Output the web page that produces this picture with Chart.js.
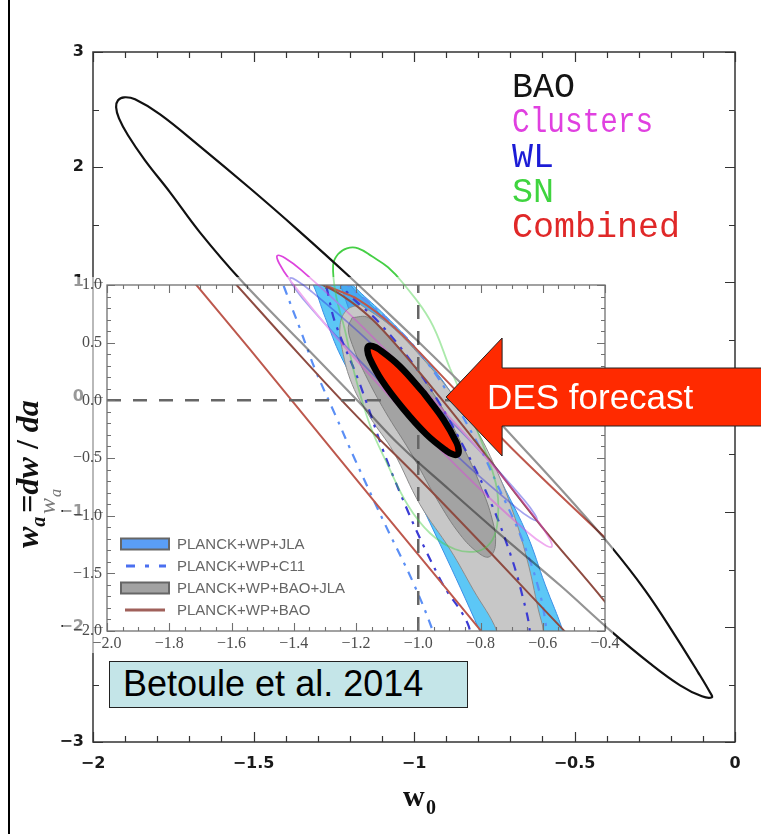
<!DOCTYPE html>
<html>
<head>
<meta charset="utf-8">
<title>Dark energy constraints in the w0 – wa plane</title>
<script src="https://cdn.jsdelivr.net/npm/chart.js@4.4.1/dist/chart.umd.min.js"></script>
<style>
  html, body { margin: 0; padding: 0; background: #fff; }
  #stage { position: relative; width: 761px; height: 834px; overflow: hidden; background: #fff; }
  #stage canvas { position: absolute; left: 0; top: 0; }
  #cite {
    position: absolute; left: 109px; top: 661px; width: 359px; height: 47px; box-sizing: border-box;
    background: #c4e5e8; border: 1px solid #222; color: #000;
    font-family: 'Liberation Sans', Arial, sans-serif; font-size: 36px; line-height: 44px;
    padding-left: 13px; white-space: nowrap;
  }
  #edge { position: absolute; left: 8px; top: 0; width: 1.5px; height: 834px; background: #000; }
</style>
</head>
<body>
<div id="stage">
  <canvas id="inset" width="761" height="834"></canvas>
  <canvas id="main" width="761" height="834"></canvas>
  <canvas id="forecast" width="761" height="834"></canvas>
  <div id="cite">Betoule et al. 2014</div>
  <div id="edge"></div>
</div>
<script>
// ---------- main panel: DES forecast contours, w0 in [-2, 0], wa in [-3, 3] ----------
const outerW0Ticks = [-2, -1.5, -1, -0.5, 0];
const outerWaTicks = [-3, -2, -1, 0, 1, 2, 3];
const probeNames = ['BAO', 'Clusters', 'WL', 'SN', 'Combined'];

const baoContour = [
  [-0.991, 0.493], [-0.794, -0.046], [-0.639, -0.507], [-0.514, -0.890], [-0.389, -1.290],
  [-0.280, -1.681], [-0.187, -2.072], [-0.115, -2.394], [-0.078, -2.568], [-0.072, -2.611],
  [-0.103, -2.603], [-0.171, -2.507], [-0.265, -2.316], [-0.389, -2.029], [-0.545, -1.637],
  [-0.732, -1.194], [-0.888, -0.811], [-1.044, -0.420], [-1.174, -0.037], [-1.355, 0.484],
  [-1.539, 1.015], [-1.667, 1.432], [-1.760, 1.780], [-1.838, 2.058], [-1.891, 2.276],
  [-1.919, 2.423], [-1.928, 2.519], [-1.922, 2.580], [-1.903, 2.606], [-1.869, 2.589],
  [-1.791, 2.458], [-1.667, 2.180], [-1.511, 1.815], [-1.364, 1.458], [-1.199, 1.041],
  [-0.991, 0.493]
];
const clustersContour = [
  [-0.964, 0.052], [-1.183, 0.673], [-1.351, 1.103], [-1.402, 1.209], [-1.426, 1.229],
  [-1.420, 1.162], [-1.386, 1.015], [-1.242, 0.518], [-1.032, -0.127], [-0.814, -0.748],
  [-0.645, -1.178], [-0.594, -1.283], [-0.571, -1.303], [-0.577, -1.237], [-0.611, -1.090],
  [-0.755, -0.593], [-0.964, 0.052]
];
const wlContour = [
  [-0.978, 0.049], [-1.173, 0.566], [-1.323, 0.926], [-1.367, 1.015], [-1.386, 1.033],
  [-1.379, 0.980], [-1.347, 0.858], [-1.215, 0.448], [-1.026, -0.089], [-0.830, -0.606],
  [-0.680, -0.966], [-0.636, -1.055], [-0.617, -1.073], [-0.624, -1.020], [-0.656, -0.898],
  [-0.788, -0.488], [-0.978, 0.049]
];
const snContour = [
  [-0.888, 0.250], [-0.826, -0.142], [-0.773, -0.507], [-0.741, -0.811], [-0.741, -1.116],
  [-0.763, -1.272], [-0.804, -1.342], [-0.872, -1.324], [-0.950, -1.185], [-1.019, -0.942],
  [-1.084, -0.577], [-1.137, -0.246], [-1.184, 0.189], [-1.215, 0.580], [-1.243, 0.884],
  [-1.252, 1.145], [-1.237, 1.241], [-1.209, 1.293], [-1.174, 1.293], [-1.131, 1.223],
  [-1.081, 1.128], [-1.034, 0.989], [-0.950, 0.667], [-0.888, 0.250]
];
const combinedContour = [
  [-0.972, 0.043], [-1.045, 0.269], [-1.108, 0.413], [-1.129, 0.443], [-1.142, 0.441],
  [-1.145, 0.406], [-1.139, 0.342], [-1.100, 0.143], [-1.034, -0.101], [-0.961, -0.326],
  [-0.898, -0.470], [-0.877, -0.500], [-0.864, -0.498], [-0.861, -0.463], [-0.867, -0.399],
  [-0.907, -0.201], [-0.972, 0.043]
];
const forecastTip = [-0.9, 0.0];

// ---------- inset: current constraints (Betoule et al. 2014), w0 in [-2, -0.4], wa in [-2, 1] ----------
const insetW0Ticks = [-2.0, -1.8, -1.6, -1.4, -1.2, -1.0, -0.8, -0.6, -0.4];
const insetWaTicks = [-2.0, -1.5, -1.0, -0.5, 0.0, 0.5, 1.0];
const insetNames = ['PLANCK+WP+JLA', 'PLANCK+WP+C11', 'PLANCK+WP+BAO+JLA', 'PLANCK+WP+BAO'];
const fiducialW0 = -1.0;
const fiducialWa = 0.0;

const jlaOuter = [
  [-1.379, 1.204], [-1.338, 1.004], [-1.299, 0.718], [-1.248, 0.379], [-1.154, -0.081],
  [-1.058, -0.541], [-0.929, -1.253], [-0.801, -2.008], [-0.736, -2.424], [-0.608, -2.511],
  [-0.511, -2.251], [-0.534, -2.008], [-0.592, -1.600], [-0.650, -1.166], [-0.720, -0.775],
  [-0.791, -0.402], [-0.897, 0.076], [-1.003, 0.440], [-1.106, 0.735], [-1.196, 0.961],
  [-1.283, 1.204], [-1.347, 1.308], [-1.379, 1.204]
];
const jlaInner = [
  [-1.283, 1.204], [-1.251, 1.004], [-1.186, 0.527], [-1.058, -0.168], [-0.897, -0.949],
  [-0.768, -1.556], [-0.688, -2.008], [-0.640, -2.338], [-0.582, -2.294], [-0.624, -2.008],
  [-0.704, -1.383], [-0.801, -0.688], [-0.897, -0.168], [-1.010, 0.336], [-1.122, 0.744],
  [-1.219, 1.004], [-1.251, 1.204], [-1.283, 1.204]
];
const c11Outer = [
  [-1.460, 1.204], [-1.428, 0.961], [-1.379, 0.614], [-1.331, 0.266], [-1.267, -0.124],
  [-1.203, -0.515], [-1.106, -1.079], [-1.016, -1.582], [-0.952, -2.008], [-0.913, -2.338],
  [-0.736, -2.555], [-0.560, -2.338], [-0.582, -2.077], [-0.608, -1.687], [-0.666, -1.209],
  [-0.743, -0.749], [-0.807, -0.385], [-0.907, 0.076], [-1.010, 0.457], [-1.106, 0.718],
  [-1.203, 0.944], [-1.299, 1.135], [-1.460, 1.204]
];
const c11Inner = [
  [-1.315, 1.204], [-1.293, 0.961], [-1.267, 0.674], [-1.193, 0.180], [-1.080, -0.662],
  [-0.929, -1.556], [-0.842, -1.930], [-0.807, -2.251], [-0.660, -2.251], [-0.640, -2.077],
  [-0.666, -1.687], [-0.720, -1.209], [-0.785, -0.775], [-0.849, -0.428], [-0.939, 0.006],
  [-1.032, 0.371], [-1.129, 0.683], [-1.219, 0.909], [-1.265, 1.060], [-1.315, 1.204]
];
const baoJlaOuter = [
  [-1.186, 0.831], [-1.090, 0.648], [-1.003, 0.414], [-0.897, 0.076], [-0.817, -0.237],
  [-0.752, -0.584], [-0.698, -0.949], [-0.650, -1.383], [-0.614, -1.817], [-0.598, -2.008],
  [-0.601, -2.294], [-0.656, -2.511], [-0.720, -2.320], [-0.746, -2.008], [-0.823, -1.643],
  [-0.897, -1.296], [-0.994, -0.905], [-1.080, -0.445], [-1.154, -0.150], [-1.212, 0.136],
  [-1.244, 0.440], [-1.251, 0.657], [-1.228, 0.787], [-1.186, 0.831]
];
const baoJlaInner = [
  [-1.212, 0.718], [-1.161, 0.718], [-1.090, 0.544], [-1.010, 0.284], [-0.929, -0.037],
  [-0.859, -0.385], [-0.801, -0.732], [-0.762, -1.036], [-0.752, -1.253], [-0.772, -1.357],
  [-0.807, -1.322], [-0.865, -1.166], [-0.939, -0.862], [-1.026, -0.445], [-1.106, -0.098],
  [-1.170, 0.223], [-1.212, 0.484], [-1.225, 0.631], [-1.212, 0.718]
];
const planckBaoOuter = [
  [-1.862, 1.490], [-1.714, 1.004], [-1.540, 0.440], [-1.251, -0.515], [-1.026, -1.253],
  [-0.801, -1.990], [-0.672, -2.424], [-0.029, -2.251], [-0.158, -1.817], [-0.383, -1.235],
  [-0.695, -0.428], [-0.897, 0.136], [-1.080, 0.640], [-1.193, 0.874], [-1.289, 0.987],
  [-1.379, 1.117], [-1.540, 1.291], [-1.701, 1.395], [-1.862, 1.490]
];
const planckBaoInner = [
  [-1.701, 1.352], [-1.585, 1.004], [-1.379, 0.388], [-1.193, -0.150], [-0.994, -0.688],
  [-0.768, -1.322], [-0.534, -1.990], [-0.415, -2.320], [-0.254, -2.251], [-0.405, -1.730],
  [-0.608, -1.079], [-0.791, -0.445], [-0.929, 0.023], [-1.058, 0.440], [-1.154, 0.718],
  [-1.235, 0.891], [-1.315, 1.013], [-1.412, 1.152], [-1.540, 1.265], [-1.701, 1.352]
];

// ---------- helpers ----------
const MINUS = '\u2212';
const fmtOuter = v => (v < 0 ? MINUS : '') + String(Math.abs(v));
const fmtInset = v => (v < -1e-9 ? MINUS : '') + Math.abs(v).toFixed(1);

function contour(label, pairs, style) {
  return Object.assign({
    label,
    data: pairs.map(([x, y]) => ({ x, y })),
    showLine: true, pointRadius: 0, pointHoverRadius: 0,
    tension: 0.4, fill: false, borderWidth: 1.6
  }, style);
}

function fixedTicks(values) {
  return s => { s.ticks = values.map(v => ({ value: v })); };
}

// frame around the plotting area with inward major/minor ticks on all four sides
function frameTicks(cfg) {
  return {
    id: 'frameTicks',
    afterDatasetsDraw(chart) {
      const { ctx, chartArea: a, scales: { x, y } } = chart;
      ctx.save();
      ctx.strokeStyle = cfg.color;
      ctx.lineWidth = cfg.width;
      ctx.strokeRect(a.left, a.top, a.right - a.left, a.bottom - a.top);
      ctx.lineWidth = cfg.tickWidth;
      const near = (v, arr) => arr.some(m => Math.abs(m - v) < 1e-6);
      ctx.beginPath();
      for (let v = x.min; v <= x.max + 1e-9; v += cfg.xMinor) {
        const len = near(v, cfg.xMajor) ? cfg.major : cfg.minor;
        const px = Math.round(x.getPixelForValue(v)) + 0.5;
        ctx.moveTo(px, a.bottom); ctx.lineTo(px, a.bottom - len);
        ctx.moveTo(px, a.top); ctx.lineTo(px, a.top + len);
      }
      for (let v = y.min; v <= y.max + 1e-9; v += cfg.yMinor) {
        const len = near(v, cfg.yMajor) ? cfg.major : cfg.minor;
        const py = Math.round(y.getPixelForValue(v)) + 0.5;
        ctx.moveTo(a.left, py); ctx.lineTo(a.left + len, py);
        ctx.moveTo(a.right, py); ctx.lineTo(a.right - len, py);
      }
      ctx.stroke();
      ctx.restore();
    }
  };
}

// ---------- inset chart (drawn underneath the main panel) ----------
const insetLegend = {
  id: 'insetLegend',
  afterDatasetsDraw(chart) {
    const { ctx, chartArea: a } = chart;
    const x0 = a.left + 14, tx = a.left + 70;
    const rows = [a.bottom - 87, a.bottom - 65, a.bottom - 43, a.bottom - 21];
    ctx.save();
    // swatches
    ctx.lineWidth = 2; ctx.strokeStyle = '#666';
    ctx.fillStyle = '#5a9ef6';
    ctx.fillRect(x0, rows[0] - 5.5, 48, 11); ctx.strokeRect(x0, rows[0] - 5.5, 48, 11);
    ctx.fillStyle = '#a2a2a2';
    ctx.fillRect(x0, rows[2] - 5.5, 48, 11); ctx.strokeRect(x0, rows[2] - 5.5, 48, 11);
    ctx.lineWidth = 3;
    ctx.strokeStyle = '#4a6ff0'; ctx.setLineDash([9, 10, 4, 10]);
    ctx.beginPath(); ctx.moveTo(x0 + 5, rows[1]); ctx.lineTo(x0 + 45, rows[1]); ctx.stroke();
    ctx.setLineDash([]);
    ctx.strokeStyle = '#a0605a';
    ctx.beginPath(); ctx.moveTo(x0 + 4, rows[3]); ctx.lineTo(x0 + 44, rows[3]); ctx.stroke();
    // labels
    ctx.fillStyle = '#666';
    ctx.font = '15px "Liberation Sans", Arial, sans-serif';
    ctx.textBaseline = 'middle';
    insetNames.forEach((n, i) => ctx.fillText(n, tx, rows[i] + 1));
    ctx.restore();
  }
};

const insetTitle = {
  id: 'insetTitle',
  afterDraw(chart) {
    const { ctx, chartArea: a } = chart;
    ctx.save();
    ctx.translate(a.left - 52, (a.top + a.bottom) / 2 + 56);
    ctx.rotate(-Math.PI / 2);
    ctx.fillStyle = '#777';
    ctx.font = 'italic 24px "Liberation Serif", serif';
    ctx.fillText('w', 0, 0);
    ctx.font = 'italic 16px "Liberation Serif", serif';
    ctx.fillText('a', 17, 6);
    ctx.restore();
  }
};

const insetChart = new Chart(document.getElementById('inset'), {
  type: 'scatter',
  data: {
    datasets: [
      contour(insetNames[0], jlaOuter, { fill: 'shape', backgroundColor: '#5cc7f6', borderColor: '#3d8fe6', borderWidth: 1, order: 10 }),
      contour(insetNames[0], jlaInner, { fill: 'shape', backgroundColor: '#47aaf1', borderColor: '#3d8fe6', borderWidth: 1, order: 9 }),
      contour(insetNames[2], baoJlaOuter, { fill: 'shape', backgroundColor: '#c7c7c7', borderColor: '#8d8d8d', borderWidth: 1, order: 8 }),
      contour(insetNames[2], baoJlaInner, { fill: 'shape', backgroundColor: '#a3a3a3', borderColor: '#808080', borderWidth: 1, order: 7 }),
      contour(insetNames[1], c11Outer, { borderColor: '#5b8ff5', borderWidth: 2.2, borderDash: [9, 7, 3, 7], order: 6 }),
      contour(insetNames[1], c11Inner, { borderColor: '#3c3cd4', borderWidth: 2.2, borderDash: [9, 7, 3, 7], order: 5 }),
      contour(insetNames[3], planckBaoOuter, { borderColor: '#bd584d', borderWidth: 2, order: 4 }),
      contour(insetNames[3], planckBaoInner, { borderColor: '#8e4b41', borderWidth: 2, order: 3 }),
      contour('fiducial w0', [[fiducialW0, insetWaTicks[0]], [fiducialW0, insetWaTicks[insetWaTicks.length - 1]]],
        { tension: 0, borderColor: '#666', borderWidth: 2.5, borderDash: [14, 12], order: 1 }),
      contour('fiducial wa', [[insetW0Ticks[0], fiducialWa], [insetW0Ticks[insetW0Ticks.length - 1], fiducialWa]],
        { tension: 0, borderColor: '#666', borderWidth: 2.5, borderDash: [14, 12], order: 1 })
    ]
  },
  options: {
    responsive: false, animation: false, devicePixelRatio: 1,
    layout: { padding: { left: 57, top: 285, right: 156, bottom: 173 } },
    elements: { line: { capBezierPoints: false } },
    plugins: { legend: { display: false }, tooltip: { enabled: false } },
    scales: {
      x: {
        type: 'linear', min: insetW0Ticks[0], max: insetW0Ticks[insetW0Ticks.length - 1],
        grid: { display: false, drawTicks: false }, border: { display: false },
        afterBuildTicks: fixedTicks(insetW0Ticks),
        afterFit: s => { s.height = 30; },
        ticks: { padding: 3, color: '#4d4d4d', autoSkip: false, maxRotation: 0,
                 font: { family: '"Liberation Serif", serif', size: 16 }, callback: fmtInset }
      },
      y: {
        type: 'linear', min: insetWaTicks[0], max: insetWaTicks[insetWaTicks.length - 1],
        grid: { display: false, drawTicks: false }, border: { display: false },
        afterBuildTicks: fixedTicks(insetWaTicks),
        afterFit: s => { s.width = 50; },
        ticks: { padding: 5, color: '#4d4d4d', autoSkip: false,
                 font: { family: '"Liberation Serif", serif', size: 16 }, callback: fmtInset }
      }
    }
  },
  plugins: [
    frameTicks({ color: '#707070', width: 1.3, tickWidth: 1.1, major: 8, minor: 4,
                 xMajor: insetW0Ticks, xMinor: 0.05, yMajor: insetWaTicks, yMinor: 0.1 }),
    insetLegend, insetTitle
  ]
});

// ---------- main panel ----------
const probeColors = ['#141414', '#e040e0', '#1c1cd6', '#3fd43f', '#e02828'];
const probeSqueeze = [1, 0.84, 1, 1, 1];
const probeLegend = {
  id: 'probeLegend',
  afterDraw(chart) {
    const { ctx, chartArea: a } = chart;
    ctx.save();
    ctx.font = '35px "Liberation Mono", "Courier New", monospace';
    ctx.textBaseline = 'alphabetic';
    probeNames.forEach((n, i) => {
      ctx.save();
      ctx.translate(a.left + 419, a.top + 45 + i * 35);
      ctx.scale(probeSqueeze[i], 1);
      ctx.fillStyle = probeColors[i];
      ctx.fillText(n, 0, 0);
      ctx.restore();
    });
    ctx.restore();
  }
};

const axisTitles = {
  id: 'axisTitles',
  afterDraw(chart) {
    const { ctx, chartArea: a } = chart;
    ctx.save();
    ctx.fillStyle = '#111';
    // w0 under the x axis
    const cx = (a.left + a.right) / 2;
    ctx.font = 'bold 30px "Liberation Serif", serif';
    ctx.fillText('w', cx - 11, a.bottom + 64);
    ctx.font = 'bold 20px "Liberation Serif", serif';
    ctx.fillText('0', cx + 12, a.bottom + 72);
    // wa = dw/da along the y axis
    ctx.translate(a.left - 55, a.bottom - 194);
    ctx.rotate(-Math.PI / 2);
    let x = 0;
    const put = (txt, font, dy) => { ctx.font = font; ctx.fillText(txt, x, dy); x += ctx.measureText(txt).width; };
    put('w', 'bold italic 32px "Liberation Serif", serif', 0);
    put('a', 'bold italic 20px "Liberation Serif", serif', 7);
    x += 4;
    put('=', 'bold 32px "Liberation Serif", serif', 0);
    put('dw', 'bold italic 32px "Liberation Serif", serif', 0);
    put(' / ', 'bold 32px "Liberation Serif", serif', 0);
    put('da', 'bold italic 32px "Liberation Serif", serif', 0);
    ctx.restore();
  }
};

// lets the inset show through: whatever the main panel drew over the inset is faded
const insetVeil = {
  id: 'insetVeil',
  afterDraw(chart) {
    const a = insetChart.chartArea;
    const ctx = chart.ctx;
    ctx.save();
    ctx.globalCompositeOperation = 'destination-out';
    ctx.fillStyle = 'rgba(0,0,0,0.55)';
    ctx.fillRect(a.left - 44, a.top - 8, (a.right - a.left) + 52, (a.bottom - a.top) + 30);
    ctx.restore();
  }
};

const mainChart = new Chart(document.getElementById('main'), {
  type: 'scatter',
  data: {
    datasets: [
      contour(probeNames[0], baoContour, { borderColor: '#111', borderWidth: 2.2 }),
      contour(probeNames[1], clustersContour, { borderColor: '#dd44dd', borderWidth: 1.8 }),
      contour(probeNames[2], wlContour, { borderColor: '#3434dc', borderWidth: 1.8 }),
      contour(probeNames[3], snContour, { borderColor: '#45cf45', borderWidth: 1.8 })
    ]
  },
  options: {
    responsive: false, animation: false, devicePixelRatio: 1,
    layout: { padding: { left: 0, top: 52, right: 26, bottom: 0 } },
    elements: { line: { capBezierPoints: false } },
    plugins: { legend: { display: false }, tooltip: { enabled: false } },
    scales: {
      x: {
        type: 'linear', min: outerW0Ticks[0], max: outerW0Ticks[outerW0Ticks.length - 1],
        grid: { display: false, drawTicks: false }, border: { display: false },
        afterBuildTicks: fixedTicks(outerW0Ticks),
        afterFit: s => { s.height = 92; },
        ticks: { padding: 12, color: '#1a1a1a', autoSkip: false, maxRotation: 0,
                 font: { family: '"DejaVu Sans", sans-serif', size: 16, weight: 'bold' }, callback: fmtOuter }
      },
      y: {
        type: 'linear', min: outerWaTicks[0], max: outerWaTicks[outerWaTicks.length - 1],
        grid: { display: false, drawTicks: false }, border: { display: false },
        afterBuildTicks: fixedTicks(outerWaTicks),
        afterFit: s => { s.width = 93; },
        ticks: { padding: 9, color: '#1a1a1a', autoSkip: false,
                 font: { family: '"DejaVu Sans", sans-serif', size: 16, weight: 'bold' }, callback: fmtOuter }
      }
    }
  },
  plugins: [
    frameTicks({ color: '#333', width: 1.5, tickWidth: 1.2, major: 10, minor: 6,
                 xMajor: outerW0Ticks, xMinor: 0.1, yMajor: outerWaTicks, yMinor: 0.5 }),
    probeLegend, axisTitles, insetVeil
  ]
});

// ---------- forecast overlay: combined contour and its call-out ----------
const forecastArrow = {
  id: 'forecastArrow',
  afterDatasetsDraw(chart) {
    const { ctx, scales: { x, y } } = chart;
    const tx = x.getPixelForValue(forecastTip[0]);
    const ty = y.getPixelForValue(forecastTip[1]);
    const headLen = 56, headHalf = 59, shaftHalf = 29;
    ctx.save();
    ctx.beginPath();
    ctx.moveTo(tx, ty);
    ctx.lineTo(tx + headLen, ty - headHalf);
    ctx.lineTo(tx + headLen, ty - shaftHalf);
    ctx.lineTo(chart.width + 10, ty - shaftHalf);
    ctx.lineTo(chart.width + 10, ty + shaftHalf);
    ctx.lineTo(tx + headLen, ty + shaftHalf);
    ctx.lineTo(tx + headLen, ty + headHalf);
    ctx.closePath();
    ctx.fillStyle = '#ff2a00';
    ctx.fill();
    ctx.lineWidth = 1;
    ctx.strokeStyle = '#222';
    ctx.stroke();
    ctx.fillStyle = '#fff';
    ctx.font = '35px "Liberation Sans", Arial, sans-serif';
    ctx.textBaseline = 'alphabetic';
    ctx.fillText('DES forecast', tx + 41, ty + 12);
    ctx.restore();
  }
};

const forecastChart = new Chart(document.getElementById('forecast'), {
  type: 'scatter',
  data: {
    datasets: [
      contour(probeNames[4], combinedContour, {
        fill: 'shape', backgroundColor: '#ff2a00', borderColor: '#000', borderWidth: 6.5
      })
    ]
  },
  options: {
    responsive: false, animation: false, devicePixelRatio: 1,
    layout: { padding: { left: 93, top: 52, right: 26, bottom: 92 } },
    elements: { line: { capBezierPoints: false } },
    plugins: { legend: { display: false }, tooltip: { enabled: false } },
    scales: {
      x: { type: 'linear', display: false, min: outerW0Ticks[0], max: outerW0Ticks[outerW0Ticks.length - 1] },
      y: { type: 'linear', display: false, min: outerWaTicks[0], max: outerWaTicks[outerWaTicks.length - 1] }
    }
  },
  plugins: [forecastArrow]
});
</script>
</body>
</html>
